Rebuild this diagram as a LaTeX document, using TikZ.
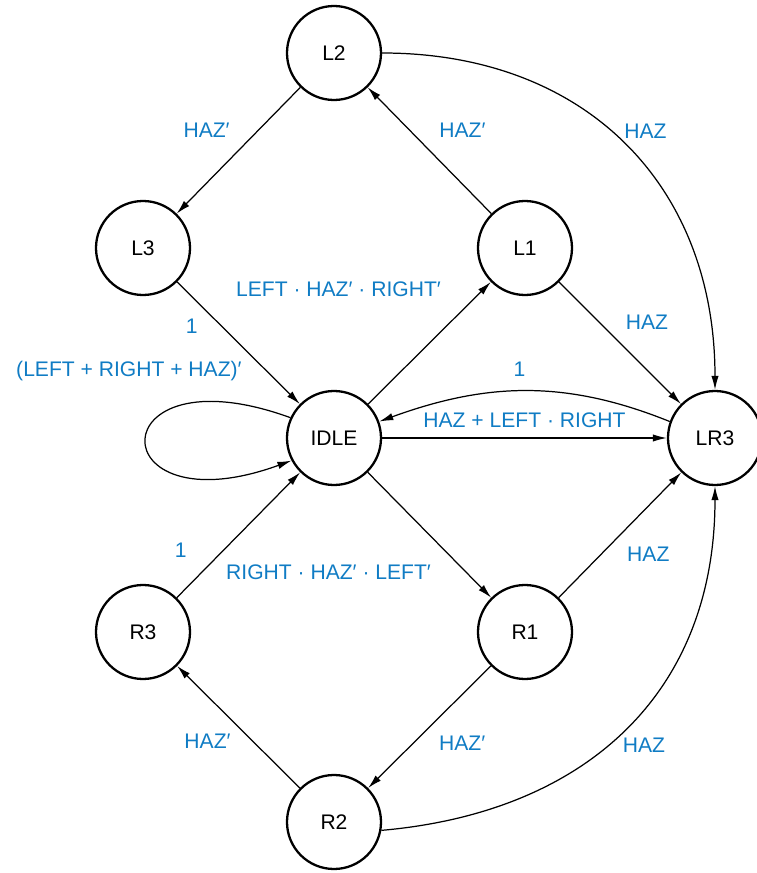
\documentclass[tikz,border=0pt]{standalone}
\usepackage{fontspec}
\setmainfont{Liberation Sans}
\usetikzlibrary{positioning,arrows.meta}
\definecolor{labblue}{RGB}{16,124,196}

\begin{document}
\begin{tikzpicture}[
  on grid,
  state/.style={draw, circle, line width=1.3pt, minimum size=1.88cm, font=\fontsize{12}{14}\selectfont},
  trans/.style={-{Latex[length=8pt,width=4.2pt]}, line width=0.7pt},
  lab/.style={text=labblue, inner sep=0pt, font=\fontsize{12}{14}\selectfont},
]
\useasboundingbox (-6.68,-8.70) rectangle (8.44,8.76);
\node[state] (IDLE) {IDLE};
\node[state, above right=3.8cm and 3.82cm of IDLE] (L1) {L1};
\node[state, left=7.64cm of L1] (L3) {L3};
\node[state, above left=3.9cm and 3.82cm of L1] (L2) {L2};
\node[state, right=7.62cm of IDLE] (LR3) {LR3};
\node[state, below right=3.88cm and 3.82cm of IDLE] (R1) {R1};
\node[state, left=7.64cm of R1] (R3) {R3};
\node[state, below left=3.8cm and 3.82cm of R1] (R2) {R2};

\draw[trans] (L2) -- node[lab, pos=0.34, left=0.56cm] {HAZ′} (L3);
\draw[trans] (L1) -- node[lab, pos=0.66, right=0.58cm] {HAZ′} (L2);
\draw[trans] (L2) to[out=0, in=90, looseness=1.1] node[lab, pos=0.46, right=0.26cm] {HAZ} (LR3);
\draw[trans] (L3) -- node[lab, pos=0.36, left=0.46cm] {1} (IDLE);
\draw[trans] (IDLE) -- node[lab, pos=0.94, left=0.84cm] {LEFT · HAZ′ · RIGHT′} (L1);
\draw[trans] (L1) -- node[lab, pos=0.33, right=0.52cm] {HAZ} (LR3);
\draw[trans] (LR3.160) to[out=158, in=20] node[lab, pos=0.52, above=0.28cm] {1} (IDLE.20);
\draw[trans] (IDLE) -- node[lab, above=0.2cm] {HAZ + LEFT · RIGHT} (LR3);
\draw[trans] (IDLE.155) to[out=160, in=200, distance=4.1cm]
  node[lab, pos=0.5, above=1.15cm, xshift=-0.35cm] {(LEFT + RIGHT + HAZ)′} (IDLE.208);
\draw[trans] (R3) -- node[lab, pos=0.38, left=0.73cm] {1} (IDLE);
\draw[trans] (IDLE) -- node[lab, pos=0.8, left=0.7cm] {RIGHT · HAZ′ · LEFT′} (R1);
\draw[trans] (R1) -- node[lab, pos=0.35, right=0.5cm] {HAZ} (LR3);
\draw[trans] (R1) -- node[lab, pos=0.63, right=0.5cm] {HAZ′} (R2);
\draw[trans] (R2) -- node[lab, pos=0.38, left=0.44cm] {HAZ′} (R3);
\draw[trans] (R2.-10) to[out=5, in=-90, looseness=1.1] node[lab, pos=0.45, right=0.3cm] {HAZ} (LR3);
\end{tikzpicture}
\end{document}
